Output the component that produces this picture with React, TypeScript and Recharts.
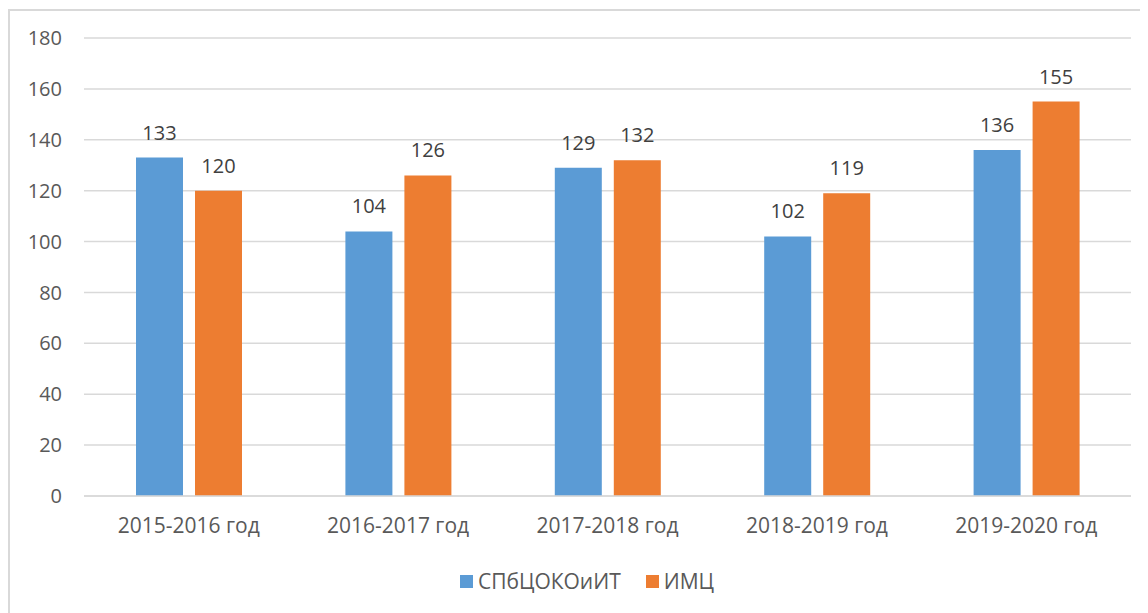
import React from 'react';
import { BarChart, Bar, XAxis, YAxis, CartesianGrid, Legend, LabelList } from 'recharts';

const years = ['2015-2016 год', '2016-2017 год', '2017-2018 год', '2018-2019 год', '2019-2020 год'];
const spbValues = [133, 104, 129, 102, 136];
const imcValues = [120, 126, 132, 119, 155];
const yTicks = [0, 20, 40, 60, 80, 100, 120, 140, 160, 180];

const seriesNames = ['СПбЦОКОиИТ', 'ИМЦ'];
const BLUE = '#5B9BD5';
const ORANGE = '#ED7D31';
const FONT = '"Open Sans", sans-serif';

const data = years.map((year, i) => ({
  year,
  spb: spbValues[i],
  imc: imcValues[i],
}));

const LegendContent = () => (
  <div style={{ display: 'flex', justifyContent: 'center', alignItems: 'center', fontFamily: FONT, fontSize: 21, color: '#595959', paddingLeft: 14 }}>
    {[BLUE, ORANGE].map((c, i) => (
      <div key={i} style={{ display: 'flex', alignItems: 'center', marginRight: i === 0 ? 25 : 0 }}>
        <span style={{ display: 'inline-block', width: 13, height: 13, background: c, marginRight: 5 }} />
        <span>{seriesNames[i]}</span>
      </div>
    ))}
  </div>
);

export default function App() {
  return (
    <div
      style={{
        marginTop: 1,
        width: 1140,
        height: 604,
        borderTop: '2px solid #d9d9d9',
        borderLeft: '2px solid #d9d9d9',
        background: '#fff',
      }}
    >
      <BarChart
        width={1140}
        height={600}
        data={data}
        margin={{ top: 27, right: 19, left: 0, bottom: 75 }}
        barGap={12}
        barSize={47}
      >
        <CartesianGrid vertical={false} stroke="#d9d9d9" strokeWidth={1.5} />
        <XAxis
          dataKey="year"
          height={40}
          tickLine={false}
          tickSize={0}
          tickMargin={22}
          axisLine={{ stroke: '#d9d9d9', strokeWidth: 1.5 }}
          tick={{ fill: '#595959', fontSize: 21, fontFamily: FONT }}
        />
        <YAxis
          width={74}
          domain={[0, 180]}
          ticks={yTicks}
          axisLine={false}
          tickLine={false}
          tickSize={0}
          tickMargin={22}
          tick={{ fill: '#595959', fontSize: 20, fontFamily: FONT }}
        />
        <Legend
          verticalAlign="middle"
          wrapperStyle={{ top: 556, left: 0, width: 1140 }}
          content={<LegendContent />}
        />
        <Bar dataKey="spb" name={seriesNames[0]} fill={BLUE} isAnimationActive={false}>
          <LabelList dataKey="spb" position="top" offset={18} fill="#404040" fontSize={20} fontFamily={FONT} />
        </Bar>
        <Bar dataKey="imc" name={seriesNames[1]} fill={ORANGE} isAnimationActive={false}>
          <LabelList dataKey="imc" position="top" offset={18} fill="#404040" fontSize={20} fontFamily={FONT} />
        </Bar>
      </BarChart>
    </div>
  );
}
